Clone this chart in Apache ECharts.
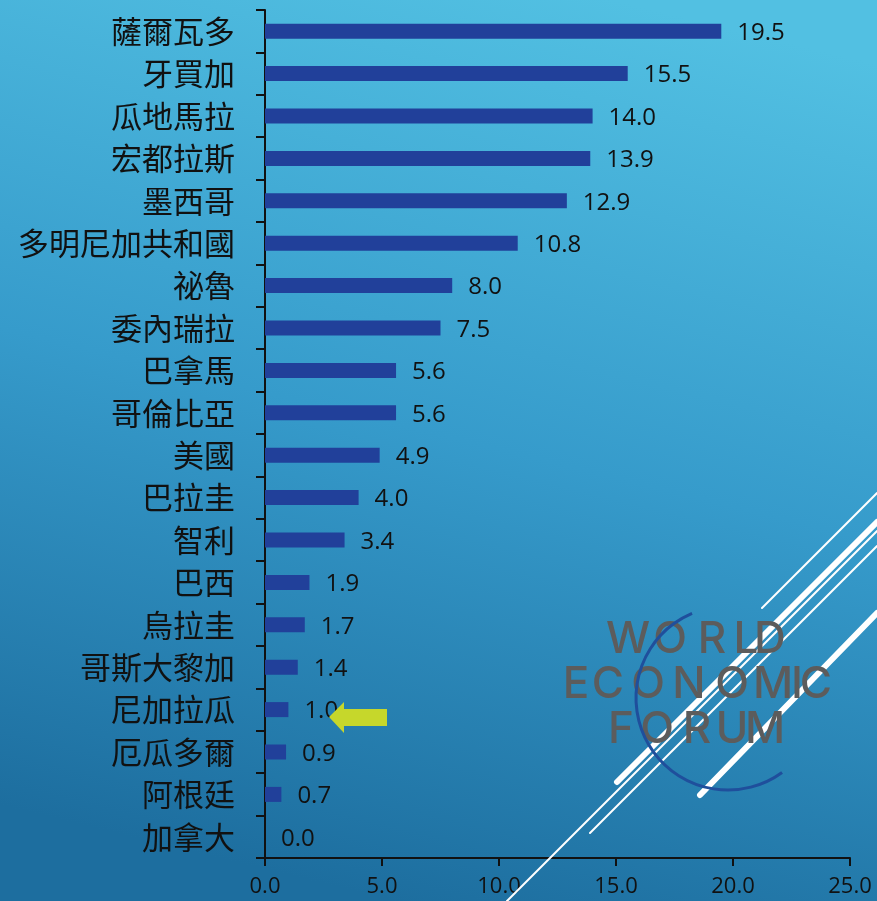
<!DOCTYPE html>
<html>
<head>
<meta charset="utf-8">
<script src="https://cdn.jsdelivr.net/npm/echarts@6/dist/echarts.min.js"></script>
<style>
  html, body { margin: 0; padding: 0; }
  #chart { width: 877px; height: 901px; }
</style>
</head>
<body>
<div id="chart"></div>
<script>
const countries = ['薩爾瓦多', '牙買加', '瓜地馬拉', '宏都拉斯', '墨西哥', '多明尼加共和國', '祕魯', '委內瑞拉', '巴拿馬', '哥倫比亞',
  '美國', '巴拉圭', '智利', '巴西', '烏拉圭', '哥斯大黎加', '尼加拉瓜', '厄瓜多爾', '阿根廷', '加拿大']
const values = [19.5, 15.5, 14.0, 13.9, 12.9, 10.8, 8.0, 7.5, 5.6, 5.6, 4.9, 4.0, 3.4, 1.9, 1.7, 1.4, 1.0, 0.9, 0.7, 0.0]
const xTicks = [0, 5, 10, 15, 20, 25]

const logoRows = [
  { text: 'WORLD', y: 640, xs: [628, 670, 712, 746, 770] },
  { text: 'ECONOMIC', y: 685, xs: [576, 608, 648, 689, 732, 773, 797, 816] },
  { text: 'FORUM', y: 730, xs: [621, 657, 697, 732, 765] },
]

// white diagonal strokes behind the logo: [x1, y1, x2, y2, width]
const strokes = [
  [762, 608, 877, 493, 2],
  [617, 782, 877, 522, 6],
  [507, 901, 877, 531, 2],
  [590, 833, 877, 546, 2],
  [700, 795, 877, 613, 6],
]

const chart = echarts.init(document.getElementById('chart'))

const graphics = []
strokes.forEach(([x1, y1, x2, y2, w]) => {
  graphics.push({
    type: 'line',
    shape: { x1, y1, x2, y2 },
    style: { stroke: '#ffffff', lineWidth: w, lineCap: 'round' },
    z: 1,
  })
})
logoRows.forEach((row) => {
  row.text.split('').forEach((ch, i) => {
    graphics.push({
      type: 'text',
      x: row.xs[i],
      y: row.y,
      style: {
        text: ch,
        font: '500 44px Inter',
        fill: '#5c5c5c',
        align: 'center',
        verticalAlign: 'middle',
      },
      z: 2,
    })
  })
})
graphics.push({
  type: 'arc',
  shape: { cx: 728, cy: 698, r: 92, startAngle: (54 * Math.PI) / 180, endAngle: (247 * Math.PI) / 180, clockwise: true },
  style: { stroke: '#1f4f9c', lineWidth: 3, fill: null },
  z: 3,
})
// pointer arrow next to 尼加拉瓜
graphics.push({
  type: 'polygon',
  shape: { points: [[329, 717], [344, 702], [344, 709], [387, 709], [387, 726], [344, 726], [344, 733]] },
  style: { fill: '#c6d72b' },
  z: 10,
})

const option = {
  animation: false,
  backgroundColor: {
    type: 'linear',
    x: 0.7, y: 0, x2: 0.45, y2: 1,
    colorStops: [
      { offset: 0, color: '#52c0e2' },
      { offset: 0.5, color: '#369bcb' },
      { offset: 1, color: '#1d6e9f' },
    ],
  },
  grid: { left: 265, right: 27, top: 10, bottom: 43 },
  xAxis: {
    type: 'value',
    min: xTicks[0],
    max: xTicks[xTicks.length - 1],
    interval: 5,
    axisLine: { show: true, lineStyle: { color: '#111', width: 2 } },
    axisTick: { show: true, length: 8, lineStyle: { color: '#111', width: 2 } },
    splitLine: { show: false },
    axisLabel: {
      color: '#111',
      fontSize: 22,
      fontFamily: 'Open Sans',
      margin: 18,
      formatter: (v) => v.toFixed(1),
    },
  },
  yAxis: {
    type: 'category',
    data: countries,
    inverse: true,
    axisLine: { show: true, lineStyle: { color: '#111', width: 2 } },
    axisTick: { show: true, length: 9, lineStyle: { color: '#111', width: 2 } },
    axisLabel: {
      color: '#111',
      fontSize: 31,
      fontFamily: 'Noto Sans CJK TC',
      margin: 30,
    },
  },
  series: [
    {
      type: 'bar',
      data: values,
      barWidth: 15,
      itemStyle: { color: '#21409a' },
      label: {
        show: true,
        position: 'right',
        distance: 16,
        offset: [0, 2],
        color: '#111',
        fontSize: 24,
        fontFamily: 'Open Sans',
        formatter: (p) => p.value.toFixed(1),
      },
      z: 5,
    },
  ],
  graphic: graphics,
}

chart.setOption(option)
</script>
</body>
</html>
